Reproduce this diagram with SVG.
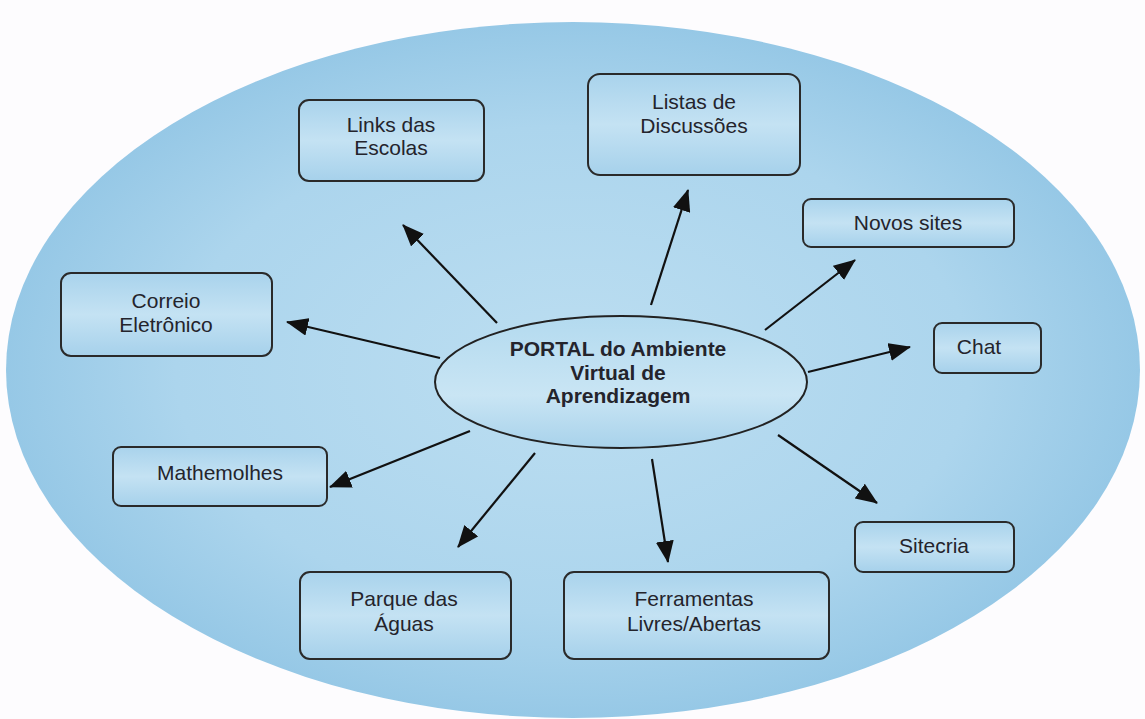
<svg xmlns="http://www.w3.org/2000/svg" width="1145" height="719" viewBox="0 0 1145 719">
<defs>
<radialGradient id="bg" cx="0.5" cy="0.5" r="0.5">
<stop offset="0" stop-color="#bcdef1"/>
<stop offset="0.7" stop-color="#acd5ed"/>
<stop offset="1" stop-color="#96c8e6"/>
</radialGradient>
<linearGradient id="box" x1="0" y1="0" x2="0" y2="1">
<stop offset="0" stop-color="#a9d3ec"/>
<stop offset="0.5" stop-color="#c4e2f3"/>
<stop offset="1" stop-color="#a6d1eb"/>
</linearGradient>
<linearGradient id="ctr" x1="0" y1="0" x2="0" y2="1">
<stop offset="0" stop-color="#b3daef"/>
<stop offset="0.6" stop-color="#c9e5f4"/>
<stop offset="1" stop-color="#a8d2eb"/>
</linearGradient>
<marker id="ah" viewBox="0 0 22 18" refX="21" refY="9" markerWidth="22" markerHeight="18" markerUnits="userSpaceOnUse" orient="auto">
<path d="M0,0 L22,9 L0,18 z" fill="#111"/>
</marker>
<style>
.b{fill:url(#box);stroke:#2a2a2a;stroke-width:2}
.t{font-family:"Liberation Sans",Arial,sans-serif;font-size:21px;fill:#24242c;text-anchor:middle}
.c{font-family:"Liberation Sans",Arial,sans-serif;font-size:21px;font-weight:bold;fill:#24242c;text-anchor:middle}
.a{stroke:#111;stroke-width:2.2;fill:none;marker-end:url(#ah)}
</style>
</defs>
<rect width="1145" height="719" fill="#fdfcfe"/>
<ellipse cx="573" cy="370" rx="567" ry="348" fill="url(#bg)"/>
<g id="connectors">
<line class="a" x1="497" y1="323" x2="403" y2="225"/>
<line class="a" x1="651" y1="305" x2="688" y2="190"/>
<line class="a" x1="765" y1="330" x2="855" y2="260"/>
<line class="a" x1="808" y1="372" x2="910" y2="347"/>
<line class="a" x1="440" y1="358" x2="287" y2="322"/>
<line class="a" x1="470" y1="431" x2="330" y2="487"/>
<line class="a" x1="535" y1="453" x2="458" y2="547"/>
<line class="a" x1="652" y1="459" x2="668" y2="562"/>
<line class="a" x1="778" y1="435" x2="877" y2="503"/>
</g>
<g id="portal">
<ellipse cx="621" cy="382" rx="186" ry="66" fill="url(#ctr)" stroke="#222" stroke-width="2"/>
<text class="c" x="618" y="356">PORTAL do Ambiente</text>
<text class="c" x="618" y="380">Virtual de</text>
<text class="c" x="618" y="403">Aprendizagem</text>
</g>
<g id="links">
<rect class="b" x="299" y="100" width="185" height="81" rx="10"/>
<text class="t" x="391" y="132">Links das</text>
<text class="t" x="391" y="155">Escolas</text>
</g>
<g id="listas">
<rect class="b" x="588" y="74" width="212" height="101" rx="12"/>
<text class="t" x="694" y="109">Listas de</text>
<text class="t" x="694" y="133">Discussões</text>
</g>
<g id="novos">
<rect class="b" x="803" y="199" width="211" height="48" rx="8"/>
<text class="t" x="908" y="230">Novos sites</text>
</g>
<g id="correio">
<rect class="b" x="61" y="273" width="211" height="83" rx="10"/>
<text class="t" x="166" y="308">Correio</text>
<text class="t" x="166" y="332">Eletrônico</text>
</g>
<g id="chat">
<rect class="b" x="934" y="323" width="107" height="50" rx="8"/>
<text class="t" x="979" y="354">Chat</text>
</g>
<g id="mathemolhes">
<rect class="b" x="113" y="447" width="214" height="59" rx="8"/>
<text class="t" x="220" y="480">Mathemolhes</text>
</g>
<g id="sitecria">
<rect class="b" x="855" y="522" width="159" height="50" rx="8"/>
<text class="t" x="934" y="553">Sitecria</text>
</g>
<g id="parque">
<rect class="b" x="300" y="572" width="211" height="87" rx="10"/>
<text class="t" x="404" y="606">Parque das</text>
<text class="t" x="404" y="631">Águas</text>
</g>
<g id="ferramentas">
<rect class="b" x="564" y="572" width="265" height="87" rx="10"/>
<text class="t" x="694" y="606">Ferramentas</text>
<text class="t" x="694" y="631">Livres/Abertas</text>
</g>
</svg>
